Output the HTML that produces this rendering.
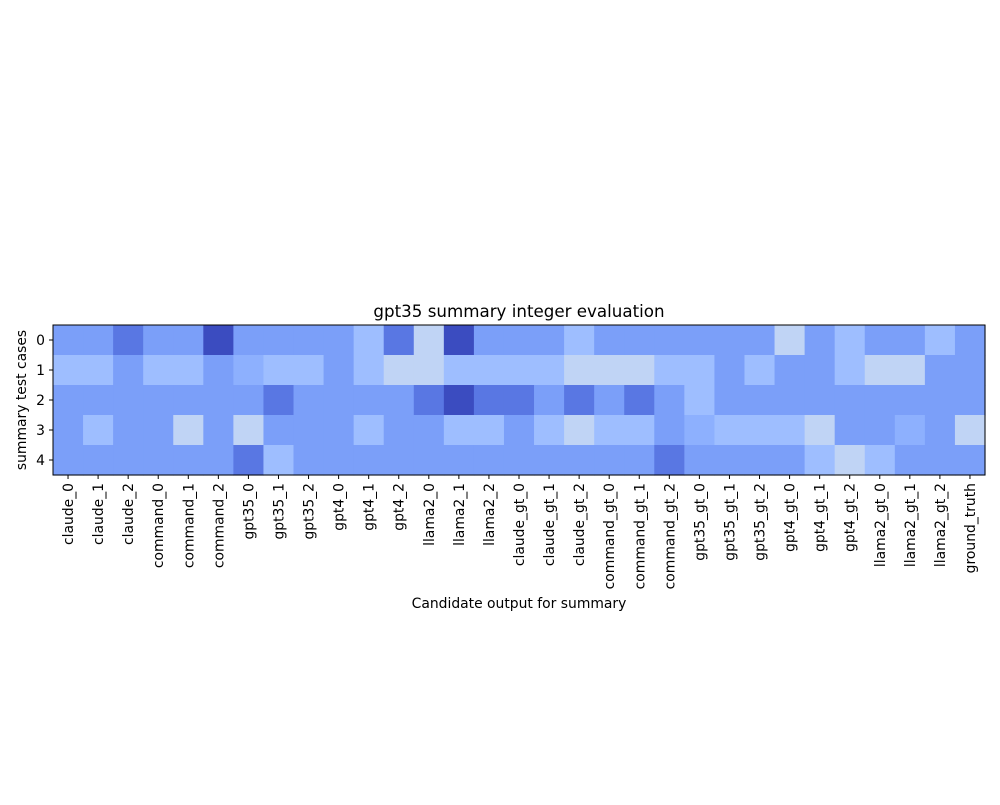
<!DOCTYPE html>
<html><head><meta charset="utf-8"><style>
body{margin:0;background:#fff}
svg text{font-family:"DejaVu Sans","Liberation Sans",sans-serif;font-size:13.9px;fill:#000}
</style></head><body>
<svg id="chart" width="1000" height="800" xmlns="http://www.w3.org/2000/svg">
<rect width="1000" height="800" fill="#fff"/>
<g id="cells"></g>
<g id="axes"></g>
<text x="519" y="317" text-anchor="middle" style="font-size:16.7px">gpt35 summary integer evaluation</text>
<text x="519" y="608" text-anchor="middle">Candidate output for summary</text>
<text transform="translate(26,400) rotate(-90)" text-anchor="middle">summary test cases</text>
</svg>
<script>
const categories=["claude_0","claude_1","claude_2","command_0","command_1","command_2","gpt35_0","gpt35_1","gpt35_2","gpt4_0","gpt4_1","gpt4_2","llama2_0","llama2_1","llama2_2","claude_gt_0","claude_gt_1","claude_gt_2","command_gt_0","command_gt_1","command_gt_2","gpt35_gt_0","gpt35_gt_1","gpt35_gt_2","gpt4_gt_0","gpt4_gt_1","gpt4_gt_2","llama2_gt_0","llama2_gt_1","llama2_gt_2","ground_truth"];
const rowLabels=["0","1","2","3","4"];
const row0=[3,3,2,3,3,1,3,3,3,3,4,2,5,1,3,3,3,4,3,3,3,3,3,3,5,3,4,3,3,4,3];
const row1=[4,4,3,4,4,3,3.5,4,4,3,4,5,5,4,4,4,4,5,5,5,4,4,3,4,3,3,4,5,5,3,3];
const row2=[3,3,3,3,3,3,3,2,3,3,3,3,2,1,2,2,3,2,3,2,3,4,3,3,3,3,3,3,3,3,3];
const row3=[3,4,3,3,5,3,5,3,3,3,4,3,3,4,4,3,4,5,4,4,3,3.5,4,4,4,5,3,3,3.5,3,5];
const row4=[3,3,3,3,3,3,2,4,3,3,3,3,3,3,3,3,3,3,3,3,2,3,3,3,3,4,5,4,3,3,3];
const rows=[row0,row1,row2,row3,row4];
const NS="http://www.w3.org/2000/svg";
const X0=53,X1=985,Y0=325,Y1=475;
const cw=(X1-X0)/categories.length, ch=(Y1-Y0)/rowLabels.length;
const xs=i=>X0+i*cw, ys=j=>Y0+j*ch;
const stops=[[1,[59,76,192]],[2,[89,119,227]],[3,[123,159,249]],[3.5,[141,176,254]],[4,[158,190,255]],[5,[192,212,245]]];
function color(v){
 for(let k=0;k<stops.length-1;k++){const a=stops[k],b=stops[k+1];
  if(v<=b[0]){const t=Math.max(0,(v-a[0])/(b[0]-a[0]));return "rgb("+a[1].map((c,i)=>Math.round(c+(b[1][i]-c)*t)).join(",")+")";}}
 return "rgb("+stops[stops.length-1][1].join(",")+")";
}
const cg=document.getElementById('cells'),ag=document.getElementById('axes');
rows.forEach((r,j)=>r.forEach((v,i)=>{
 const el=document.createElementNS(NS,'rect');
 el.setAttribute('x',xs(i));el.setAttribute('y',ys(j));
 el.setAttribute('width',cw+0.6);el.setAttribute('height',ch+0.6);
 el.setAttribute('fill',color(v));
 
 
 cg.appendChild(el);
}));
const frame=document.createElementNS(NS,'rect');
frame.setAttribute('x',X0);frame.setAttribute('y',Y0);frame.setAttribute('width',X1-X0);frame.setAttribute('height',Y1-Y0);
frame.setAttribute('fill','none');frame.setAttribute('stroke','#000');frame.setAttribute('stroke-width','1');


ag.appendChild(frame);
categories.forEach((c,i)=>{
 const x=xs(i)+cw/2;
 const t=document.createElementNS(NS,'line');
 t.setAttribute('x1',x);t.setAttribute('x2',x);t.setAttribute('y1',Y1);t.setAttribute('y2',Y1+4);t.setAttribute('stroke','#000');
 
 
 ag.appendChild(t);
 const l=document.createElementNS(NS,'text');
 l.setAttribute('transform','translate('+(x+5)+','+(Y1+8)+') rotate(-90)');
 l.setAttribute('text-anchor','end');l.textContent=c;
 
 
 ag.appendChild(l);
});
rowLabels.forEach((r,j)=>{
 const y=ys(j)+ch/2;
 const t=document.createElementNS(NS,'line');
 t.setAttribute('x1',X0-4);t.setAttribute('x2',X0);t.setAttribute('y1',y);t.setAttribute('y2',y);t.setAttribute('stroke','#000');
 
 
 ag.appendChild(t);
 const l=document.createElementNS(NS,'text');
 l.setAttribute('x',X0-8);l.setAttribute('y',y+5);l.setAttribute('text-anchor','end');l.textContent=r;
 
 
 ag.appendChild(l);
});
</script>
</body></html>
